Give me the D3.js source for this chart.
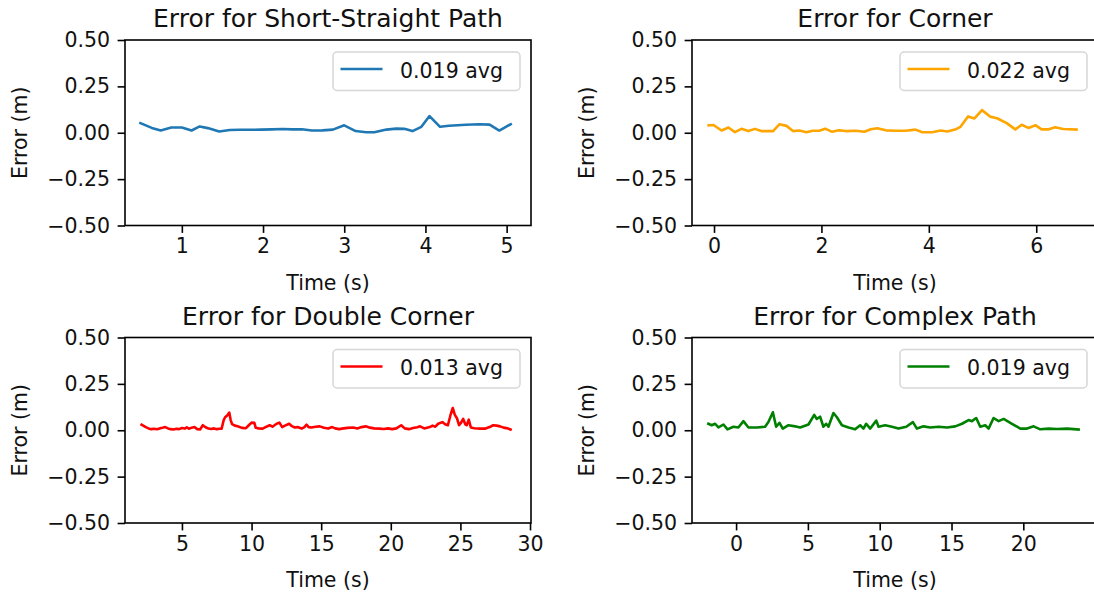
<!DOCTYPE html>
<html>
<head>
<meta charset="utf-8">
<script src="https://cdn.jsdelivr.net/npm/d3@7"></script>
<style>
  body { margin: 0; background: #fff; }
  svg { display: block; font-family: "DejaVu Sans", sans-serif; }
</style>
</head>
<body>
<svg width="1094" height="594"></svg>
<script>
// data
const straightTime  = [0.49, 0.63, 0.74, 0.87, 1.0, 1.12, 1.22, 1.32, 1.46, 1.59, 1.72, 1.85, 1.98, 2.11, 2.24, 2.36, 2.48, 2.6, 2.73, 2.86, 3.0, 3.14, 3.27, 3.37, 3.52, 3.64, 3.74, 3.84, 3.95, 4.05, 4.18, 4.29, 4.5, 4.66, 4.79, 4.91, 5.05];
const straightError = [0.052, 0.026, 0.012, 0.028, 0.028, 0.012, 0.034, 0.025, 0.007, 0.015, 0.016, 0.016, 0.017, 0.018, 0.02, 0.018, 0.019, 0.012, 0.013, 0.017, 0.04, 0.009, 0.003, 0.003, 0.017, 0.022, 0.021, 0.009, 0.032, 0.09, 0.032, 0.038, 0.043, 0.046, 0.044, 0.012, 0.046];

const cornerTime  = [-0.1, -0.01, 0.14, 0.27, 0.39, 0.51, 0.64, 0.76, 0.88, 1.1, 1.22, 1.35, 1.47, 1.59, 1.72, 1.84, 1.96, 2.07, 2.2, 2.32, 2.46, 2.64, 2.8, 2.92, 3.04, 3.2, 3.38, 3.57, 3.75, 3.88, 4.06, 4.22, 4.34, 4.49, 4.59, 4.73, 4.85, 4.99, 5.14, 5.27, 5.45, 5.61, 5.73, 5.85, 5.99, 6.1, 6.22, 6.35, 6.5, 6.75];
const cornerError = [0.04, 0.042, 0.012, 0.028, 0.003, 0.021, 0.009, 0.021, 0.009, 0.009, 0.046, 0.037, 0.009, 0.012, 0.003, 0.011, 0.011, 0.022, 0.005, 0.013, 0.009, 0.011, 0.005, 0.019, 0.024, 0.013, 0.011, 0.011, 0.017, 0.003, 0.003, 0.012, 0.007, 0.017, 0.032, 0.088, 0.077, 0.122, 0.087, 0.078, 0.052, 0.018, 0.043, 0.026, 0.04, 0.018, 0.018, 0.03, 0.02, 0.017];

const doubleTime  = [2.1, 2.25, 2.4, 2.6, 2.8, 3.0, 3.2, 3.4, 3.6, 3.8, 4.0, 4.2, 4.4, 4.6, 4.8, 5.0, 5.2, 5.35, 5.5, 5.7, 5.9, 6.1, 6.3, 6.5, 6.7, 6.9, 7.1, 7.3, 7.5, 7.7, 7.85, 8.0, 8.1, 8.25, 8.4, 8.5, 8.6, 8.8, 9.0, 9.3, 9.6, 9.8, 10.0, 10.2, 10.3, 10.5, 10.8, 11.0, 11.3, 11.5, 11.8, 12.0, 12.2, 12.4, 12.7, 12.9, 13.1, 13.3, 13.6, 13.8, 13.95, 14.1, 14.3, 14.6, 14.9, 15.2, 15.5, 15.8, 16.0, 16.3, 16.6, 16.9, 17.3, 17.6, 17.9, 18.2, 18.5, 18.8, 19.2, 19.5, 19.8, 20.1, 20.4, 20.75, 21.0, 21.3, 21.6, 21.9, 22.1, 22.4, 22.8, 23.0, 23.2, 23.4, 23.7, 23.9, 24.1, 24.3, 24.45, 24.6, 24.75, 24.9, 25.05, 25.2, 25.35, 25.45, 25.6, 25.75, 26.0, 26.4, 26.8, 27.1, 27.35, 27.6, 27.85, 28.1, 28.4, 28.6];
const doubleError = [0.03, 0.024, 0.017, 0.01, 0.006, 0.008, 0.005, 0.01, 0.013, 0.017, 0.01, 0.006, 0.004, 0.008, 0.006, 0.012, 0.009, 0.016, 0.008, 0.014, 0.017, 0.006, 0.004, 0.027, 0.016, 0.009, 0.007, 0.01, 0.006, 0.008, 0.009, 0.055, 0.07, 0.08, 0.095, 0.055, 0.033, 0.025, 0.022, 0.013, 0.011, 0.027, 0.041, 0.04, 0.013, 0.01, 0.009, 0.017, 0.027, 0.019, 0.035, 0.041, 0.017, 0.025, 0.035, 0.022, 0.015, 0.017, 0.009, 0.017, 0.03, 0.017, 0.015, 0.019, 0.021, 0.013, 0.009, 0.017, 0.01, 0.006, 0.01, 0.013, 0.015, 0.01, 0.017, 0.021, 0.014, 0.01, 0.009, 0.007, 0.01, 0.006, 0.01, 0.027, 0.01, 0.006, 0.012, 0.016, 0.021, 0.01, 0.017, 0.025, 0.019, 0.035, 0.044, 0.032, 0.027, 0.085, 0.12, 0.083, 0.065, 0.027, 0.041, 0.061, 0.032, 0.027, 0.057, 0.015, 0.011, 0.009, 0.009, 0.017, 0.027, 0.025, 0.021, 0.014, 0.01, 0.004];

const complexTime  = [-1.93, -1.7, -1.46, -1.23, -0.88, -0.6, -0.19, 0.16, 0.51, 0.86, 1.44, 2.02, 2.25, 2.56, 2.79, 3.02, 3.25, 3.65, 4.11, 4.46, 5.04, 5.44, 5.62, 5.85, 6.08, 6.27, 6.43, 6.78, 7.02, 7.37, 7.83, 8.29, 8.64, 8.87, 9.06, 9.34, 9.76, 9.92, 10.38, 10.85, 11.31, 11.85, 12.31, 12.59, 13.05, 13.52, 14.1, 14.68, 15.26, 15.73, 16.19, 16.42, 16.72, 17.0, 17.35, 17.58, 17.93, 18.28, 18.63, 19.21, 19.79, 20.26, 20.72, 21.18, 21.76, 22.35, 23.05, 23.85];
const complexError = [0.035, 0.027, 0.035, 0.015, 0.031, 0.005, 0.019, 0.015, 0.049, 0.015, 0.015, 0.019, 0.044, 0.097, 0.019, 0.04, 0.009, 0.027, 0.021, 0.015, 0.031, 0.083, 0.061, 0.073, 0.019, 0.035, 0.019, 0.093, 0.07, 0.027, 0.015, 0.005, 0.027, 0.009, 0.035, 0.009, 0.052, 0.019, 0.027, 0.019, 0.009, 0.019, 0.044, 0.009, 0.021, 0.015, 0.019, 0.015, 0.021, 0.035, 0.055, 0.049, 0.066, 0.019, 0.027, 0.009, 0.066, 0.049, 0.061, 0.035, 0.009, 0.009, 0.021, 0.005, 0.009, 0.007, 0.009, 0.004];

const titles  = ["Error for Short-Straight Path", "Error for Corner", "Error for Double Corner", "Error for Complex Path"];
const legends = ["0.019 avg", "0.022 avg", "0.013 avg", "0.019 avg"];
const colors  = ["#1f77b4", "orange", "red", "green"];
const xDomains = [[0.30, 5.30], [-0.41, 7.15], [0.91, 30.07], [-3.07, 25.2]];
const xTicks = [[1, 2, 3, 4, 5], [0, 2, 4, 6], [5, 10, 15, 20, 25, 30], [0, 5, 10, 15, 20]];
const yTicks = [-0.5, -0.25, 0, 0.25, 0.5];

const svg = d3.select("svg");
const fs = 20.5;

const panels = [
  { t: straightTime, v: straightError, x0: 125, y0: 40 },
  { t: cornerTime,   v: cornerError,   x0: 692, y0: 40 },
  { t: doubleTime,   v: doubleError,   x0: 125, y0: 337.5 },
  { t: complexTime,  v: complexError,  x0: 692, y0: 337.5 }
];
const W = 406, H = 185.5;

function drawPanel(p, i) {
  const g = svg.append("g").attr("transform", `translate(${p.x0},${p.y0})`);
  const x = d3.scaleLinear().domain(xDomains[i]).range([0, W]);
  const y = d3.scaleLinear().domain([-0.5, 0.5]).range([H, 0]);

  const pts = p.t.map((t, k) => [t, p.v[k]]);
  g.append("path")
    .datum(pts)
    .attr("fill", "none")
    .attr("stroke", colors[i])
    .attr("stroke-width", 2.6)
    .attr("stroke-linejoin", "round")
    .attr("stroke-linecap", "square")
    .attr("d", d3.line().x(d => x(d[0])).y(d => y(d[1])));

  const xa = g.append("g").attr("transform", `translate(0,${H})`)
    .call(d3.axisBottom(x).tickValues(xTicks[i]).tickFormat(d3.format("d")).tickSize(7.4).tickPadding(6));
  const ya = g.append("g")
    .call(d3.axisLeft(y).tickValues(yTicks).tickFormat(d3.format(".2f")).tickSize(7.4).tickPadding(7.5));
  [xa, ya].forEach(a => {
    a.select(".domain").remove();
    a.selectAll("line").attr("stroke", "#000").attr("stroke-width", 1.6);
    a.selectAll("text").attr("font-size", fs).attr("fill", "#111").attr("font-family", "DejaVu Sans");
  });

  g.append("rect")
    .attr("width", W).attr("height", H)
    .attr("fill", "none").attr("stroke", "#000").attr("stroke-width", 1.6);

  // titles and labels
  g.append("text").attr("x", W / 2).attr("y", -13)
    .attr("text-anchor", "middle").attr("font-size", 25).attr("fill", "#111")
    .text(titles[i]);
  g.append("text").attr("x", W / 2).attr("y", H + 64)
    .attr("text-anchor", "middle").attr("font-size", fs).attr("fill", "#111")
    .text("Time (s)");
  g.append("text")
    .attr("transform", `translate(-98,${H / 2}) rotate(-90)`)
    .attr("text-anchor", "middle").attr("font-size", fs).attr("fill", "#111")
    .text("Error (m)");

  // legend
  const lg = g.append("g").attr("transform", `translate(${W - 11 - 187},${12})`);
  lg.append("rect").attr("width", 187).attr("height", 38.5).attr("rx", 4)
    .attr("fill", "#fff").attr("fill-opacity", 0.8)
    .attr("stroke", "#d6d6d6").attr("stroke-width", 1.5);
  lg.append("line").attr("x1", 7.5).attr("x2", 49.5).attr("y1", 17).attr("y2", 17)
    .attr("stroke", colors[i]).attr("stroke-width", 2.6);
  lg.append("text").attr("x", 67).attr("y", 25.5)
    .attr("font-size", fs).attr("fill", "#111")
    .text(legends[i]);
}

panels.forEach(drawPanel);
</script>
</body>
</html>
